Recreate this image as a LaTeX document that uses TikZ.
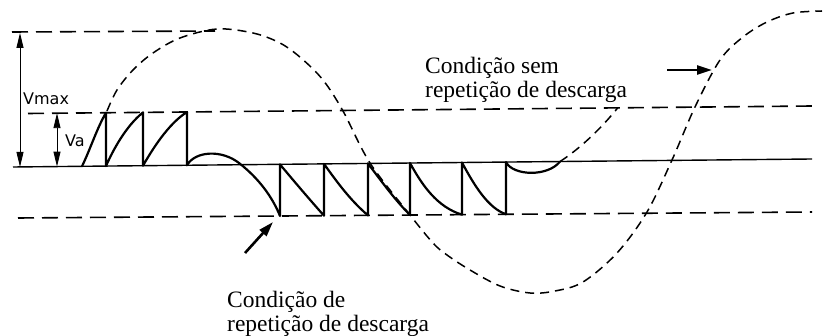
\documentclass[tikz,border=0pt]{standalone}
\usepackage{fontspec}
\setmainfont{Liberation Serif}
\newfontfamily\capfont{Liberation Serif}
\newfontfamily\lblfont{DejaVu Sans}
\usetikzlibrary{arrows.meta}
\begin{document}
\begin{tikzpicture}[x=1pt,y=-1pt,
  guide/.style={line width=1.6pt, dash pattern=on 16pt off 8pt},
  wave/.style={line width=1.5pt, dash pattern=on 9pt off 6pt},
  trace/.style={line width=2.2pt, line join=round},
  axisline/.style={line width=1.4pt},
  dim/.style={line width=0.9pt, {Triangle[length=15pt,width=7pt]}-{Triangle[length=15pt,width=7pt]}},
  pointer/.style={line width=2.6pt, -{Triangle[length=15pt,width=9pt]}},
  caption/.style={font=\capfont\fontsize{23.5}{24}\selectfont, align=left, inner sep=0pt},
  sym/.style={font=\lblfont\fontsize{16}{18}\selectfont, inner sep=0pt}]
\useasboundingbox (0,0) rectangle (823,336);

% reference lines
\coordinate (vmaxL) at (12,32);   \coordinate (vmaxR) at (215,31);
\coordinate (vaL) at (28,113.5);  \coordinate (vaR) at (812,106);
\coordinate (loL) at (18,218);    \coordinate (loR) at (812,212);
\coordinate (baseL) at (13,167);  \coordinate (baseR) at (812,159);
\draw[guide] (vmaxL) -- (vmaxR);
\draw[guide] (vaL) -- (vaR);
\draw[guide] (loL) -- (loR);
\draw[axisline] (baseL) -- (baseR);

% dimension arrows
\coordinate (dmT) at (20,33);  \coordinate (dmB) at (20,166.9);
\coordinate (daT) at (57,113.2); \coordinate (daB) at (57,166.6);
\draw[dim] (dmT) -- (dmB);
\draw[dim] (daT) -- (daB);
\node[sym, anchor=base west] (lblmax) at (23,105) {Vmax};
\node[sym, anchor=base west] (lbla) at (65,147) {Va};

% applied sine (dashed)
\draw[wave] plot[smooth, tension=0.55] coordinates {
 (107,111) (117,90) (133,70) (153,53) (180,38) (217,29) (253,33) (280,43)
 (301,58) (323,80) (343,111) (370,163) (410,215) (433,243) (447,255)
 (470,270) (500,286) (530,293) (555,291) (583,282) (617,253) (647,212)
 (672,160) (695,107) (720,60) (743,37) (767,22) (793,13) (822,11)};

% void voltage trace (solid)
\draw[trace] (82,166.3) .. controls (90,150) and (97,128) .. (106,112.7)
 -- (106,166.1) .. controls (113,150) and (126,126) .. (143,112.4)
 -- (143,165.7) .. controls (152,150) and (168,124) .. (187,112)
 -- (187,165.3) .. controls (195,151) and (222,149) .. (240,163.8)
 .. controls (258,178) and (272,196) .. (280,216)
 -- (280,164.4) .. controls (293,180) and (310,200) .. (324,215.7)
 -- (324,163.9) .. controls (337,182) and (350,200) .. (368,215.4)
 -- (368,163.5) .. controls (382,182) and (395,200) .. (410,215)
 -- (410,163) .. controls (422,185) and (437,207) .. (462,214.7)
 -- (462,162.5) .. controls (474,185) and (488,208) .. (506,214.3)
 -- (506,162.1) .. controls (513,176) and (548,177) .. (560,161.5);
\coordinate (dipEnd) at (560,161.5); \coordinate (freeEnd) at (618,107.5);
\draw[wave] (dipEnd) .. controls (578,150) and (600,130) .. (freeEnd);

% pointers
\coordinate (pa1) at (245,253); \coordinate (pa2) at (273,222);
\coordinate (pb1) at (667,70);  \coordinate (pb2) at (712,70);
\draw[pointer] (pa1) -- (pa2);
\draw[pointer] (pb1) -- (pb2);

% captions
\node[caption, anchor=base west] (capA) at (425,98) {Condição sem\\repetição de descarga};
\node[caption, anchor=base west] (capB) at (227,332) {Condição de\\repetição de descarga};
\end{tikzpicture}
\end{document}
